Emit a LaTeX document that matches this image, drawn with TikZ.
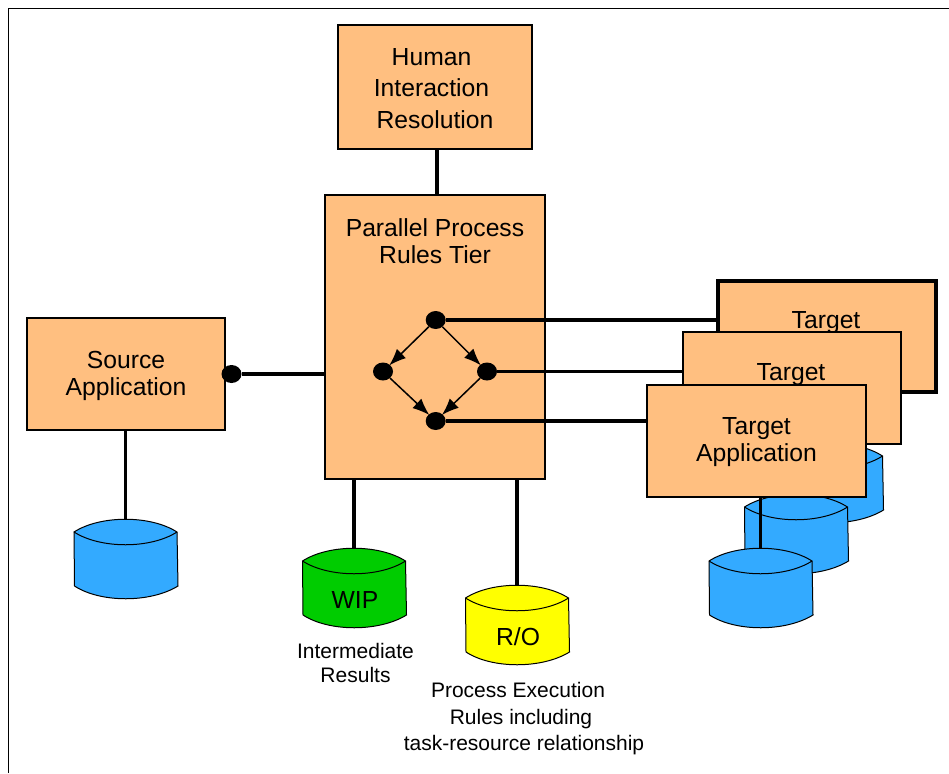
\documentclass[tikz,border=0pt]{standalone}
\usepackage{fontspec}
\setmainfont{Liberation Sans}
\usetikzlibrary{arrows.meta,shapes.geometric}

\definecolor{boxfill}{HTML}{FFBF80}
\definecolor{dbblue}{HTML}{33AAFF}
\definecolor{dbgreen}{HTML}{00CC00}
\definecolor{dbyellow}{HTML}{FFFF00}

% name, centre x, top y, fill, text
\newcommand{\dbnode}[5]{
  \draw[dbline, fill=#4] (#2-51.5,#3+13) .. controls (#2-25,#3-4) and (#2+25,#3-4) .. (#2+51.5,#3+13)
    -- (#2+52.5,#3+67) .. controls (#2+25,#3+84) and (#2-25,#3+84) .. (#2-51,#3+67) -- cycle;
  \draw[dbline] (#2-51.5,#3+13) .. controls (#2-25,#3+30) and (#2+25,#3+30) .. (#2+51.5,#3+13);
  \node[dbshape](#1) at (#2,#3+39.5){};
  \node[dbtext](#1text) at (#2+1,#3+52){#5};
}

\begin{document}
\begin{tikzpicture}[x=1pt,y=-1pt]
  \tikzstyle{box} = [rectangle, draw, line width=1.5pt, fill=boxfill, inner sep=0pt, align=center,
    font=\fontsize{24.7}{27}\selectfont]
  \tikzstyle{boxtext} = [inner sep=0pt, align=center, font=\fontsize{24.7}{27}\selectfont]
  \tikzstyle{dbline} = [line width=1pt]
  \tikzstyle{dbshape} = [minimum width=103pt, minimum height=79pt, inner sep=0pt]
  \tikzstyle{dbtext} = [inner sep=0pt, font=\fontsize{24.7}{27}\selectfont]
  \tikzstyle{note} = [align=center, font=\fontsize{21}{26.5}\selectfont]
  \tikzstyle{dot} = [ellipse, fill=black, minimum width=20pt, minimum height=18pt, inner sep=0pt]
  \tikzstyle{e} = [line width=3.5pt];
  \tikzstyle{a} = [line width=1.5pt, -{Latex[length=17pt,width=13pt]}, shorten >=-1pt];

  \useasboundingbox (0,0) rectangle (949,773);
  \draw[line width=1.3pt] (8.5,773) -- (8.5,8.5) -- (949,8.5);

  % databases
  \dbnode{dbsrc}{125.5}{519}{dbblue}{}
  \dbnode{wip}{354}{548}{dbgreen}{WIP}
  \dbnode{ro}{517}{585}{dbyellow}{R/O}
  \dbnode{dbback}{831}{443}{dbblue}{}
  \dbnode{dbmid}{796}{494}{dbblue}{}
  \dbnode{dbfront}{760.5}{548}{dbblue}{}

  % boxes
  \node[box, minimum width=194pt, minimum height=124pt](human) at (435,87){};
  \node[boxtext, font=\fontsize{24.7}{31.5}\selectfont](humantext) at (435,88.5){Human\kern7pt\\Interaction\kern7pt\\Resolution};
  \node[box, minimum width=220pt, minimum height=284pt](rules) at (435,337){};
  \node[boxtext](rulestext) at (435,241){Parallel Process\\Rules Tier};
  \node[box, minimum width=198pt, minimum height=112pt](src) at (126,374){};
  \node[boxtext](srctext) at (126,376){Source\\Application};
  \node[box, line width=4.5pt, minimum width=218pt, minimum height=111pt](tback) at (827,336.5){};
  \node[boxtext](tbacktext) at (826,322.5){Target};
  \node[box, minimum width=218pt, minimum height=112pt](tmid) at (792,388){};
  \node[boxtext](tmidtext) at (791,374.5){Target};
  \node[box, minimum width=219pt, minimum height=112pt](tfront) at (756.5,441){};
  \node[boxtext](tfronttext) at (756.5,442){Target\\Application};

  % dots
  \node[dot](ptop) at (435.7,320){};
  \node[dot](pleft) at (383,371.5){};
  \node[dot](pright) at (487,371.5){};
  \node[dot](pbottom) at (435.7,421){};
  \node[dot](psrc) at (231.5,374){};

  \draw[a](ptop)--(pleft);
  \draw[a](ptop)--(pright);
  \draw[a](pleft)--(pbottom);
  \draw[a](pright)--(pbottom);

  \draw[e](ptop)--(ptop -| tback.west);
  \draw[e](pright)--(pright -| tmid.west);
  \draw[e](pbottom)--(pbottom -| tfront.west);
  \draw[e](psrc)--(psrc -| rules.west);
  \draw[e]([xshift=2pt]human.south)--([xshift=2pt]human.south |- rules.north);
  \draw[e](src.south -| dbsrc.north)--(dbsrc.north);
  \draw[e](rules.south -| wip.north)--(wip.north);
  \draw[e](rules.south -| ro.north)--(ro.north);
  \draw[e](tfront.south -| dbfront.north)--(dbfront.north);

  % notes
  \node[note, font=\fontsize{21}{24}\selectfont](wipnote) at (355.5,662.5){Intermediate\\Results};
  \node[note](ronote) at (524,719){Process Execution\kern12pt\\Rules including\kern6pt\\task-resource relationship};
\end{tikzpicture}
\end{document}
